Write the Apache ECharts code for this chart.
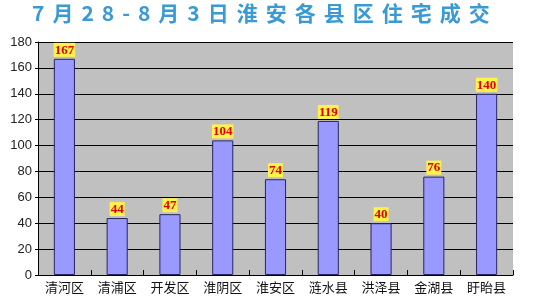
<!DOCTYPE html>
<html><head><meta charset="utf-8">
<script src="https://cdn.jsdelivr.net/npm/echarts@6/dist/echarts.min.js"></script>
<style>html,body{margin:0;padding:0;background:#fff}#c{width:550px;height:305px}</style>
</head><body><div id="c"></div>
<script>
const titleText = '7月28-8月3日淮安各县区住宅成交';
const categories = ['清河区','清浦区','开发区','淮阴区','淮安区','涟水县','洪泽县','金湖县','盱眙县'];
const values = [167, 44, 47, 104, 74, 119, 40, 76, 140];
const yTicks = [0, 20, 40, 60, 80, 100, 120, 140, 160, 180];

const richTitle = titleText.split('').map(ch => '{a|' + ch + '}').join('');
const chart = echarts.init(document.getElementById('c'), null, {renderer: 'canvas'});
chart.setOption({
  animation: false,
  backgroundColor: '#fff',
  title: {
    text: richTitle,
    left: 28,
    top: 3,
    padding: 0,
    textStyle: {
      rich: {
        a: {fontSize: 21, fontWeight: 'bold', color: '#3a9ad4', fontFamily: 'Noto Sans CJK SC', padding: [0, 4]}
      }
    }
  },
  grid: {left: 38, right: 37, top: 42, bottom: 30, show: true, backgroundColor: '#c0c0c0', borderWidth: 0},
  xAxis: {
    type: 'category',
    data: categories,
    axisLine: {lineStyle: {color: '#000', width: 1}},
    axisTick: {show: true, inside: true, length: 5, alignWithLabel: false, lineStyle: {color: '#000'}},
    axisLabel: {color: '#111', fontSize: 13, fontFamily: 'Noto Sans CJK SC', margin: 6, interval: 0}
  },
  yAxis: {
    type: 'value',
    min: yTicks[0], max: yTicks[yTicks.length - 1], interval: 20,
    axisLine: {show: true, lineStyle: {color: '#000', width: 1}},
    axisTick: {show: true, length: 3, lineStyle: {color: '#000'}},
    splitLine: {lineStyle: {color: '#000', width: 1}},
    axisLabel: {color: '#222', fontSize: 13, fontFamily: 'Liberation Sans', margin: 6}
  },
  series: [{
    type: 'bar',
    data: values,
    barWidth: '40%',
    itemStyle: {color: '#9999ff', borderColor: '#262660', borderWidth: 1},
    label: {
      show: true, position: 'top', distance: 2,
      color: '#e00000', fontSize: 13, fontWeight: 'bold', fontFamily: 'Liberation Serif',
      backgroundColor: '#fff24a', padding: [1, 1, 0, 1]
    }
  }]
});
</script></body></html>
